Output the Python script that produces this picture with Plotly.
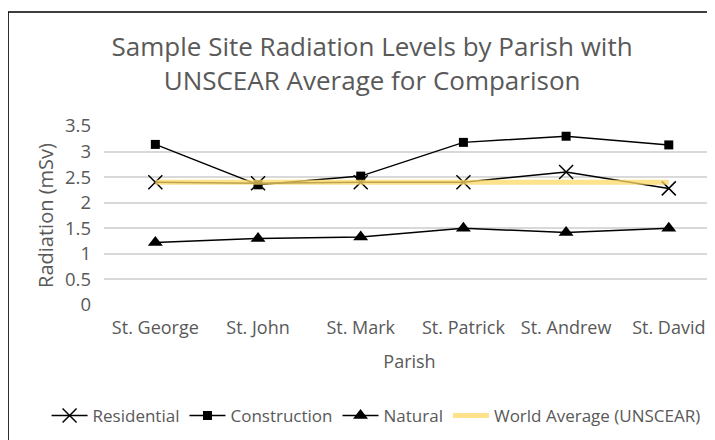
import plotly.graph_objects as go

parishes = ["St. George", "St. John", "St. Mark", "St. Patrick", "St. Andrew", "St. David"]
residential = [2.4, 2.38, 2.4, 2.4, 2.6, 2.28]
construction = [3.14, 2.35, 2.52, 3.18, 3.3, 3.13]
natural = [1.22, 1.3, 1.33, 1.5, 1.42, 1.5]
world_avg = [2.4, 2.4, 2.4, 2.4, 2.4, 2.4]
y_ticks = [0, 0.5, 1, 1.5, 2, 2.5, 3, 3.5]
y_tick_labels = ["0", "0.5", "1", "1.5", "2", "2.5", "3", "3.5"]

FONT = "Open Sans"
GRAY = "#595959"

fig = go.Figure()
fig.add_trace(go.Scatter(
    x=parishes, y=residential, name="Residential", mode="lines+markers",
    line=dict(color="black", width=1.5),
    marker=dict(symbol="x-thin", size=14, line=dict(color="black", width=1.5), color="black"),
))
fig.add_trace(go.Scatter(
    x=parishes, y=construction, name="Construction", mode="lines+markers",
    line=dict(color="black", width=1.5),
    marker=dict(symbol="square", size=9, color="black"),
))
fig.add_trace(go.Scatter(
    x=parishes, y=natural, name="Natural", mode="lines+markers",
    line=dict(color="black", width=1.5),
    marker=dict(symbol="triangle-up", size=13, color="black"),
))
fig.add_trace(go.Scatter(
    x=parishes, y=world_avg, name="World Average (UNSCEAR)", mode="lines",
    line=dict(color="#FFD966", width=5), opacity=0.75,
))

# page body adds an 8px offset, so the figure is 707x432
fig.update_layout(
    width=707, height=432,
    paper_bgcolor="white", plot_bgcolor="white",
    margin=dict(l=96, r=0, t=118, b=135, autoexpand=False),
    font=dict(family=FONT, color=GRAY, size=17),
    title=dict(
        text="Sample Site Radiation Levels by Parish with<br>UNSCEAR Average for Comparison",
        x=0.515, xanchor="center", y=0.888, yanchor="middle",
        font=dict(family=FONT, size=26, color=GRAY),
    ),
    xaxis=dict(
        type="category", range=[-0.5, 5.45], showgrid=False, zeroline=False,
        showline=False, ticks="", ticklabelstandoff=10,
        tickfont=dict(size=18, color=GRAY), automargin=False,
        title=dict(text="Parish", font=dict(size=18, color=GRAY), standoff=17),
    ),
    yaxis=dict(
        range=[0, 3.5], tickvals=y_ticks, ticktext=y_tick_labels,
        showgrid=True, gridcolor="#D9D9D9", gridwidth=1.5, zeroline=False,
        showline=False, ticks="", ticklabelstandoff=12, tickfont=dict(size=18.5, color=GRAY),
        automargin=False,
        title=dict(text="Radiation (mSv)", font=dict(size=20, color=GRAY), standoff=5),
    ),
    legend=dict(
        orientation="h", xref="paper", yref="paper",
        x=-0.094, xanchor="left", y=-0.62, yanchor="middle",
        font=dict(size=17, color=GRAY), itemwidth=36, tracegroupgap=0,
    ),
    shapes=[dict(type="rect", xref="paper", yref="paper",
                 x0=-0.157, x1=1.2, y0=-1.2, y1=1.637,
                 line=dict(color="black", width=1.5))],
)

fig.write_html("out.html")
